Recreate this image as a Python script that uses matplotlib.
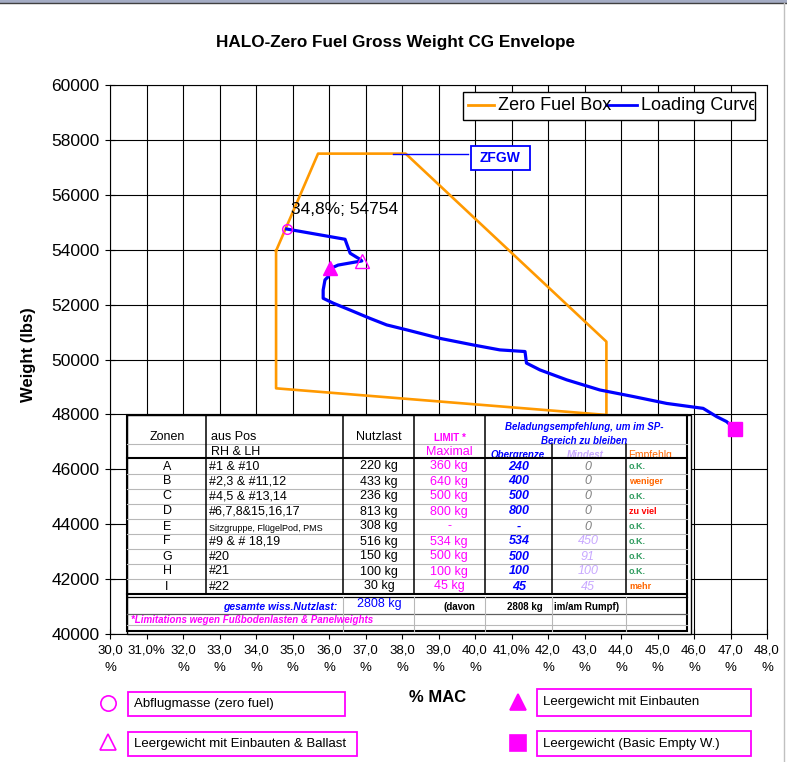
import matplotlib
matplotlib.use("Agg")
import matplotlib.pyplot as plt
from matplotlib.patches import Rectangle
from matplotlib.lines import Line2D
from matplotlib.transforms import Bbox, TransformedBbox

# --- data ---
# zero fuel box (% MAC, lbs)
zfb_mac = [34.55, 35.7, 38.1, 43.6, 43.6, 34.55, 34.55]
zfb_wt = [53960, 57500, 57500, 50650, 47980, 48950, 53960]

# loading curve, from zero fuel point down to basic empty weight
lc_mac = [34.84, 36.44, 36.48, 36.58, 36.85, 36.90, 36.76, 36.25, 36.05, 35.98,
          35.89, 35.84, 35.84, 36.12, 36.58, 37.12, 37.58, 38.13, 39.04, 39.95,
          40.68, 41.37, 41.41, 41.78, 42.51, 43.42, 44.34, 45.25, 46.25, 46.62,
          46.89, 47.12]
lc_wt = [54754, 54380, 54230, 53870, 53650, 53590, 53560, 53440, 53320, 53020,
         52900, 52530, 52230, 52050, 51800, 51500, 51260, 51080, 50770, 50530,
         50350, 50290, 49870, 49620, 49260, 48890, 48650, 48400, 48220, 47920,
         47740, 47470]

zf_point = (34.84, 54754)          # Abflugmasse (zero fuel)
ballast_point = (36.90, 53590)     # Leergewicht mit Einbauten & Ballast
einbauten_point = (36.03, 53320)   # Leergewicht mit Einbauten
bew_point = (47.12, 47470)         # Leergewicht (Basic Empty W.)

x_ticks = list(range(30, 49))
x_labels = ["%d,0%%" % v if v in (31, 41) else "%d,0\n%%" % v for v in x_ticks]
y_ticks = list(range(40000, 60001, 2000))

# table contents
zones = ["A", "B", "C", "D", "E", "F", "G", "H", "I"]
positions = ["#1 & #10", "#2,3 & #11,12", "#4,5 & #13,14", "#6,7,8&15,16,17",
             "Sitzgruppe, FlügelPod, PMS", "#9 & # 18,19", "#20", "#21", "#22"]
payload_kg = [220, 433, 236, 813, 308, 516, 150, 100, 30]
limit_max = ["360 kg", "640 kg", "500 kg", "800 kg", "-", "534 kg", "500 kg",
             "100 kg", "45 kg"]
upper_limit = ["240", "400", "500", "800", "-", "534", "500", "100", "45"]
minimum = [0, 0, 0, 0, 0, 450, 91, 100, 45]
advice = ["o.K.", "weniger", "o.K.", "zu viel", "o.K.", "o.K.", "o.K.", "o.K.", "mehr"]
total_payload = 2808

ORANGE = "#ff9900"
BLUE = "#0000ff"
MAGENTA = "#ff00ff"
advice_colors = {"o.K.": "#2e9b5e", "weniger": "#ff6600", "zu viel": "#ff0000",
                 "mehr": "#ff6600"}

SANS = ["Liberation Sans", "DejaVu Sans"]
plt.rcParams["font.family"] = SANS

W, H = 787, 762


def fx(px):
    return px / W


def fy(py):
    return 1 - py / H


fig = plt.figure(figsize=(W / 100, H / 100), dpi=100)
ax = fig.add_axes([fx(110), fy(634), fx(767) - fx(110), fy(85) - fy(634)])

# zero fuel box and loading curve
ax.plot(zfb_mac, zfb_wt, color=ORANGE, lw=1.9, zorder=3)
ax.plot(lc_mac, lc_wt, color=BLUE, lw=2.3, zorder=4)
ax.plot(*zf_point, marker="o", ms=7, mfc="none", mec=MAGENTA, mew=1, zorder=5)
ax.plot(*ballast_point, marker="^", ms=10, mfc="none", mec=MAGENTA, mew=1, zorder=5)
ax.plot(*einbauten_point, marker="^", ms=10, color=MAGENTA, zorder=5)
ax.plot(*bew_point, marker="s", ms=10, color=MAGENTA, zorder=5)
ax.text(zf_point[0] + 0.12, zf_point[1] + 420, "34,8%; 54754", fontsize=12.5,
        ha="left", va="bottom")

# ZFGW call-out
ax.plot([37.75, 39.8], [57500, 57500], color=BLUE, lw=1, zorder=3)
ax.add_patch(Rectangle((39.88, 56900), 1.63, 880, fc="white", ec=BLUE, lw=1.3, zorder=6))
ax.text(40.7, 57340, "ZFGW", color=BLUE, fontsize=10, fontweight="bold",
        ha="center", va="center", zorder=7)

ax.set_xlim(30, 48)
ax.set_ylim(40000, 60000)
ax.set_xticks(x_ticks)
ax.set_xticklabels(x_labels, fontsize=9.5, linespacing=1.6)
ax.set_yticks(y_ticks)
ax.set_yticklabels([str(v) for v in y_ticks], fontsize=12.5)
ax.tick_params(direction="inout", length=7, width=0.8, pad=4)
ax.grid(True, color="black", lw=0.8)
for s in ax.spines.values():
    s.set_linewidth(0.8)

fig.text(fx(396), fy(42), "HALO-Zero Fuel Gross Weight CG Envelope",
         fontsize=12.3, fontweight="bold", ha="center", va="center")
fig.text(fx(28), fy(355), "Weight (lbs)", fontsize=12,
         fontweight="bold", rotation=90, ha="center", va="center")
fig.text(fx(438), fy(697), "% MAC", fontsize=12,
         fontweight="bold", ha="center", va="center")


def hline(y, x0, x1, color="black", lw=1.0):
    fig.add_artist(Line2D([fx(x0), fx(x1)], [fy(y), fy(y)], color=color, lw=lw, zorder=2))


def vline(x, y0, y1, color="black", lw=1.0):
    fig.add_artist(Line2D([fx(x), fx(x)], [fy(y0), fy(y1)], color=color, lw=lw, zorder=2))


def clip_text(t, x0, y0, x1, y1):
    t.set_clip_on(True)
    t.set_clip_box(TransformedBbox(Bbox([[fx(x0), fy(y1)], [fx(x1), fy(y0)]]),
                                   fig.transFigure))


# legend (drawn like the original, with clipped text)
fig.add_artist(Rectangle((fx(463), fy(120)), fx(755) - fx(463), fy(92) - fy(120),
                         transform=fig.transFigure, fc="white", ec="black", lw=1, zorder=2))
fig.add_artist(Line2D([fx(468), fx(494)], [fy(105), fy(105)], color=ORANGE, lw=2, zorder=3))
fig.text(fx(498), fy(105), "Zero Fuel Box", fontsize=13, va="center", zorder=3)
fig.add_artist(Line2D([fx(606), fx(637)], [fy(105), fy(105)], color=BLUE, lw=2, zorder=3))
t = fig.text(fx(641), fy(105), "Loading Curve", fontsize=13, va="center", zorder=3)
clip_text(t, 463, 92, 754, 120)

# ---- table ----
TL, TR, TT, TB = 127, 687, 415, 631
fig.add_artist(Rectangle((fx(TL), fy(634)), fx(691) - fx(TL), fy(TT) - fy(634),
                         transform=fig.transFigure, fc="white", ec="black", lw=1, zorder=2))
fig.add_artist(Rectangle((fx(TL), fy(TB)), fx(TR) - fx(TL), fy(TT) - fy(TB),
                         transform=fig.transFigure, fc="none", ec="black", lw=1.5, zorder=2))

GRAY = "#b8b8b8"
row_top = 459
row_h = 15
for i in range(1, 9):
    hline(row_top + i * row_h, TL, TR, GRAY, 0.8)
hline(444, TL, TR, GRAY, 0.8)
hline(614, TL, TR, "#606060", 0.9)
hline(625, TL, TR, GRAY, 0.8)
hline(458, TL, TR, "black", 1.5)
hline(594, TL, TR, "black", 1.5)
hline(597, TL, TR, "black", 0.9)
for x in (206, 343, 414, 485):
    vline(x, TT, 594, "black", 1.1)
for x in (552, 626):
    vline(x, 444, 594, "black", 1.1)
for x in (343, 414, 485, 552, 626):
    vline(x, 597, TB, GRAY, 0.8)

# header
fig.text(fx(167), fy(437), "Zonen", fontsize=9, ha="center", va="center", zorder=3)
fig.text(fx(211), fy(437), "aus Pos", fontsize=9, va="center", zorder=3)
fig.text(fx(211), fy(452), "RH & LH", fontsize=9, va="center", zorder=3)
fig.text(fx(379), fy(437), "Nutzlast", fontsize=9, ha="center", va="center", zorder=3)
fig.text(fx(450), fy(438), "LIMIT *", fontsize=7, fontweight="bold", color=MAGENTA,
         ha="center", va="center", zorder=3)
fig.text(fx(449), fy(452), "Maximal", fontsize=9, color=MAGENTA, ha="center",
         va="center", zorder=3)
fig.text(fx(584), fy(427), "Beladungsempfehlung, um im SP-", fontsize=7,
         fontweight="bold", style="italic", color=BLUE, ha="center", va="center", zorder=3)
t = fig.text(fx(584), fy(441), "Bereich zu bleiben", fontsize=7, fontweight="bold",
             style="italic", color=BLUE, ha="center", va="center", zorder=3)
clip_text(t, 486, 430, 686, 443.5)
t = fig.text(fx(518), fy(455), "Obergrenze", fontsize=7, fontweight="bold",
             style="italic", color=BLUE, ha="center", va="center", zorder=3)
clip_text(t, 486, 444, 551, 457)
t = fig.text(fx(585), fy(455), "Mindest", fontsize=7, fontweight="bold",
             style="italic", color="#c8a8ff", ha="center", va="center", zorder=3)
clip_text(t, 553, 444, 625, 457)
t = fig.text(fx(628), fy(455), "Empfehlg", fontsize=7.5, color="#ff6600",
             va="center", zorder=3)
clip_text(t, 627, 444, 686, 457)

# rows
for i in range(len(zones)):
    yc = fy(row_top + row_h * i + 7.5)
    fig.text(fx(167), yc, zones[i], fontsize=9, ha="center", va="center", zorder=3)
    if i == 4:
        t = fig.text(fx(209), yc - 0.003, positions[i], fontsize=6.5, va="center", zorder=3)
        clip_text(t, 207, row_top + row_h * i, 342, row_top + row_h * (i + 1))
    else:
        fig.text(fx(209), yc, positions[i], fontsize=9, va="center", zorder=3)
    fig.text(fx(379), yc, "%d kg" % payload_kg[i], fontsize=9, ha="center",
             va="center", zorder=3)
    fig.text(fx(449), yc, limit_max[i], fontsize=9, color=MAGENTA, ha="center",
             va="center", zorder=3)
    fig.text(fx(519), yc, upper_limit[i], fontsize=9, style="italic", color=BLUE,
             fontweight="bold", ha="center", va="center", zorder=3)
    mcol = "#808080" if minimum[i] == 0 else "#c8a8ff"
    fig.text(fx(588), yc, str(minimum[i]), fontsize=9, style="italic", color=mcol,
             ha="center", va="center", zorder=3)
    fig.text(fx(629), yc, advice[i], fontsize=6.5, fontweight="bold",
             color=advice_colors[advice[i]], va="center", zorder=3)

# footer
fig.text(fx(337), fy(607), "gesamte wiss.Nutzlast:", fontsize=7.5, fontweight="bold",
         style="italic", color=BLUE, ha="right", va="center", zorder=3)
fig.text(fx(379), fy(604), "%d kg" % total_payload, fontsize=9, color=BLUE,
         ha="center", va="center", zorder=3)
fig.text(fx(443), fy(607), "(davon", fontsize=7, fontweight="bold", va="center", zorder=3)
fig.text(fx(507), fy(607), "%d kg" % total_payload, fontsize=7, fontweight="bold",
         va="center", zorder=3)
fig.text(fx(554), fy(607), "im/am Rumpf)", fontsize=7, fontweight="bold",
         va="center", zorder=3)
fig.text(fx(131), fy(620), "*Limitations wegen Fußbodenlasten & Panelweights",
         fontsize=7, fontweight="bold", style="italic", color=MAGENTA, va="center",
         zorder=3)

# ---- marker explanation boxes under the chart ----
boxes = [
    (128, 692, 345, 716, "Abflugmasse (zero fuel)", (108, 703), "o", "none"),
    (128, 732, 357, 756, "Leergewicht mit Einbauten & Ballast", (108, 742), "^", "none"),
    (537, 689, 751, 716, "Leergewicht mit Einbauten", (518, 702), "^", MAGENTA),
    (537, 731, 751, 756, "Leergewicht (Basic Empty W.)", (518, 743), "s", MAGENTA),
]
for x0, y0, x1, y1, label, mpos, mk, mfc in boxes:
    fig.add_artist(Rectangle((fx(x0), fy(y1)), fx(x1) - fx(x0), fy(y0) - fy(y1),
                             transform=fig.transFigure, fc="white", ec=MAGENTA,
                             lw=1.3, zorder=2))
    fig.text(fx(x0 + 6), fy((y0 + y1) / 2), label, fontsize=9.5,
             va="center", zorder=3)
    fig.add_artist(Line2D([fx(mpos[0])], [fy(mpos[1])], marker=mk, ms=11, mfc=mfc,
                          mec=MAGENTA, mew=1.2, color=MAGENTA, zorder=3))

# window frame remnants at top and right
fig.add_artist(Rectangle((0, fy(3)), 1, fy(0) - fy(3), transform=fig.transFigure,
                         fc="#a4acc4", ec="none", zorder=2))
fig.add_artist(Line2D([0, 1], [fy(3), fy(3)], color="#404040", lw=1, zorder=2))
fig.add_artist(Line2D([fx(784), fx(784)], [0, fy(3)], color="#c0c0c0", lw=1, zorder=2))

fig.savefig("out.png", dpi=100)
